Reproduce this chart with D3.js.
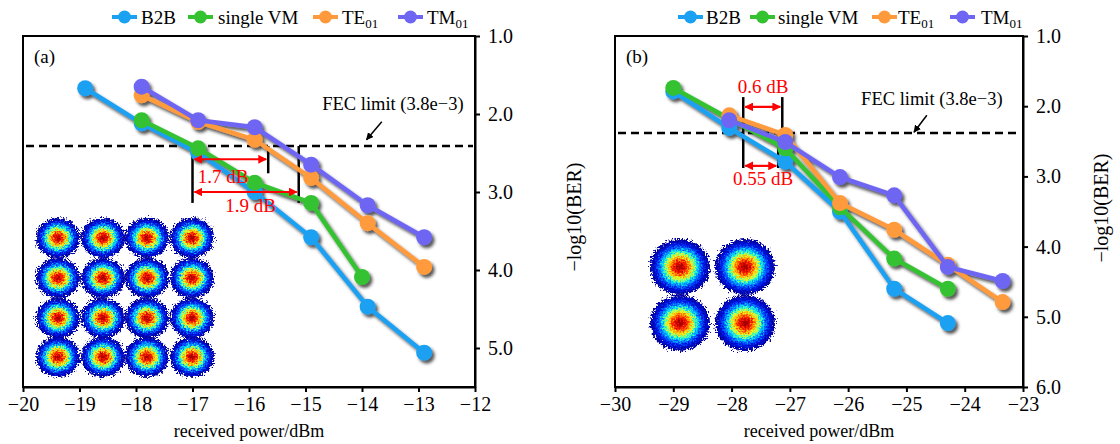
<!DOCTYPE html>
<html lang="en">
<head>
<meta charset="UTF-8">
<title>BER vs received power</title>
<script src="https://cdn.jsdelivr.net/npm/d3@7"></script>
<style>
  body { margin: 0; background: #fff; }
  .axis path, .axis line { stroke: #000; stroke-width: 2; }
  .box { fill: none; stroke: #000; stroke-width: 2; }
</style>
</head>
<body>
<svg width="1120" height="444"></svg>
<script>
// ---- data ----
const seriesNames = ["B2B", "single VM", "TE", "TM"];
const seriesSubs = ["", "", "01", "01"];
const seriesColors = ["#1ba1f2", "#35c231", "#ff9a3c", "#6e66f2"];

// panel (a)
const powerA_B2B = [-18.9, -17.9, -16.9, -15.9, -14.9, -13.9, -12.9];
const berA_B2B   = [1.67, 2.12, 2.50, 3.00, 3.58, 4.47, 5.06];
const powerA_VM  = [-17.9, -16.9, -15.9, -14.9, -14.0];
const berA_VM    = [2.08, 2.44, 2.88, 3.14, 4.09];
const powerA_TE  = [-17.9, -16.9, -15.9, -14.9, -13.9, -12.9];
const berA_TE    = [1.76, 2.10, 2.33, 2.82, 3.40, 3.96];
const powerA_TM  = [-17.9, -16.9, -15.9, -14.9, -13.9, -12.9];
const berA_TM    = [1.65, 2.08, 2.17, 2.65, 3.17, 3.58];

// panel (b)
const powerB_B2B = [-29.0, -28.04, -27.08, -26.14, -25.21, -24.29];
const berB_B2B   = [1.79, 2.31, 2.79, 3.50, 4.60, 5.09];
const powerB_VM  = [-29.0, -28.04, -27.08, -26.14, -25.21, -24.29];
const berB_VM    = [1.74, 2.18, 2.60, 3.44, 4.17, 4.60];
const powerB_TE  = [-28.04, -27.08, -26.14, -25.21, -24.29, -23.35];
const berB_TE    = [2.13, 2.41, 3.38, 3.76, 4.26, 4.79];
const powerB_TM  = [-28.04, -27.08, -26.14, -25.21, -24.29, -23.35];
const berB_TM    = [2.20, 2.51, 3.01, 3.27, 4.29, 4.49];

const xTicksA = [-20, -19, -18, -17, -16, -15, -14, -13, -12];
const yTicksA = [1, 2, 3, 4, 5];
const xTicksB = [-30, -29, -28, -27, -26, -25, -24, -23];
const yTicksB = [1, 2, 3, 4, 5, 6];

const fecA = 2.41, fecB = 2.38;

const FONT = "'Liberation Serif', 'Times New Roman', Times, serif";

const svg = d3.select("svg").attr("font-family", FONT);
const defs = svg.append("defs");

// shadow under the curves
defs.append("filter").attr("id", "shadow")
  .attr("x", "-20%").attr("y", "-20%").attr("width", "140%").attr("height", "140%")
  .append("feDropShadow")
  .attr("dx", 2.5).attr("dy", 3).attr("stdDeviation", 1.6)
  .attr("flood-color", "#222").attr("flood-opacity", 0.75);

// ragged edge for the constellation clouds
const rough = defs.append("filter").attr("id", "rough")
  .attr("x", "-30%").attr("y", "-30%").attr("width", "160%").attr("height", "160%");
rough.append("feTurbulence").attr("type", "fractalNoise")
  .attr("baseFrequency", 0.6).attr("numOctaves", 2).attr("seed", 3).attr("result", "noise");
rough.append("feDisplacementMap").attr("in", "SourceGraphic").attr("in2", "noise")
  .attr("scale", 10).attr("xChannelSelector", "R").attr("yChannelSelector", "G");

// jet colormap gradient
const jet = defs.append("radialGradient").attr("id", "jet");
[[0, "#8a0000"], [0.1, "#c00000"], [0.22, "#ff2000"], [0.34, "#ffb000"],
 [0.44, "#e0ff30"], [0.52, "#40ffb0"], [0.6, "#00c8ff"], [0.7, "#0060ff"],
 [0.82, "#0010e0"], [1, "#000090"]]
  .forEach(s => jet.append("stop").attr("offset", s[0]).attr("stop-color", s[1]));

// arrow heads
defs.append("marker").attr("id", "redArrow")
  .attr("viewBox", "0 0 10 10").attr("refX", 9).attr("refY", 5)
  .attr("markerWidth", 4).attr("markerHeight", 4)
  .attr("orient", "auto-start-reverse").attr("markerUnits", "strokeWidth")
  .append("path").attr("d", "M0,0L10,5L0,10z").attr("fill", "#ff0000");
defs.append("marker").attr("id", "blackArrow")
  .attr("viewBox", "0 0 10 10").attr("refX", 9).attr("refY", 5)
  .attr("markerWidth", 5).attr("markerHeight", 5)
  .attr("orient", "auto").attr("markerUnits", "strokeWidth")
  .append("path").attr("d", "M0,0L10,5L0,10z").attr("fill", "#000");

function label(sel, size) {
  return sel.append("text").attr("font-family", FONT).attr("font-size", size);
}

function drawPanel(p) {
  const x = d3.scaleLinear().domain(p.xDomain).range([p.left, p.right]);
  const y = d3.scaleLinear().domain(p.yDomain).range([p.top, p.bottom]);
  const g = svg.append("g");

  // constellation insets
  p.clouds.forEach(c => {
    g.append("ellipse")
      .attr("cx", p.left + c[0]).attr("cy", c[1])
      .attr("rx", p.cloudR[0]).attr("ry", p.cloudR[1])
      .attr("fill", "url(#jet)").attr("filter", "url(#rough)");
  });

  // box
  g.append("rect").attr("class", "box")
    .attr("x", p.left).attr("y", p.top)
    .attr("width", p.right - p.left).attr("height", p.bottom - p.top);

  // axes
  const gx = g.append("g").attr("class", "axis")
    .attr("transform", `translate(0,${p.bottom})`)
    .call(d3.axisBottom(x).tickValues(p.xTicks).tickFormat(d3.format("d"))
      .tickSize(5).tickPadding(5).tickSizeOuter(0));
  const gy = g.append("g").attr("class", "axis")
    .attr("transform", `translate(${p.right},0)`)
    .call(d3.axisRight(y).tickValues(p.yTicks).tickFormat(d3.format(".1f"))
      .tickSize(5).tickPadding(8).tickSizeOuter(0));
  [gx, gy].forEach(a => a.attr("font-family", FONT).attr("font-size", 20)
    .selectAll("text").attr("fill", "#000"));

  // FEC line
  g.append("line")
    .attr("x1", p.left + 3).attr("x2", p.right - 2)
    .attr("y1", y(p.fec)).attr("y2", y(p.fec))
    .attr("stroke", "#000").attr("stroke-width", 2.5).attr("stroke-dasharray", "8,5");
  label(g, 18.5).attr("x", x(p.fecText[0])).attr("y", y(p.fecText[1]))
    .attr("text-anchor", "end").text("FEC limit (3.8e\u22123)");
  g.append("line")
    .attr("x1", x(p.fecArrow[0])).attr("y1", y(p.fecArrow[1]))
    .attr("x2", x(p.fecArrow[2])).attr("y2", y(p.fecArrow[3]))
    .attr("stroke", "#000").attr("stroke-width", 1.5).attr("marker-end", "url(#blackArrow)");

  // black guide lines
  p.guides.forEach(v => {
    g.append("line").attr("x1", x(v[0])).attr("x2", x(v[0]))
      .attr("y1", y(v[1])).attr("y2", y(v[2]))
      .attr("stroke", "#000").attr("stroke-width", 2.5);
  });

  // curves
  const line = d3.line().x(d => x(d[0])).y(d => y(d[1]));
  const curves = g.append("g").attr("filter", "url(#shadow)");
  p.series.forEach((s, i) => {
    const pts = d3.zip(s[0], s[1]);
    const sg = curves.append("g");
    sg.append("path").attr("d", line(pts))
      .attr("fill", "none").attr("stroke", seriesColors[i]).attr("stroke-width", 4.5);
    sg.selectAll("circle").data(pts).join("circle")
      .attr("cx", d => x(d[0])).attr("cy", d => y(d[1])).attr("r", 8)
      .attr("fill", seriesColors[i]);
  });

  // red dB arrows
  p.arrows.forEach(a => {
    g.append("line").attr("x1", x(a[0]) + 2).attr("x2", x(a[1]) - 2)
      .attr("y1", y(a[2])).attr("y2", y(a[2]))
      .attr("stroke", "#ff0000").attr("stroke-width", 2.2)
      .attr("marker-start", "url(#redArrow)").attr("marker-end", "url(#redArrow)");
    label(g, 19).attr("x", x(a[3])).attr("y", y(a[4]))
      .attr("text-anchor", "middle").attr("fill", "#ff0000").text(a[5]);
  });

  // panel label
  label(g, 19).attr("x", p.left + 11).attr("y", 63).text(p.label);

  // axis titles
  label(g, 18).attr("x", (p.left + p.right) / 2).attr("y", 437)
    .attr("text-anchor", "middle").text("received power/dBm");
  label(g, 20)
    .attr("transform", `translate(${p.yTitle[0]},${p.yTitle[1]}) rotate(-90)`)
    .attr("text-anchor", "middle").text("\u2212log10(BER)");

  // legend
  p.legend.forEach((lx, i) => {
    const lg = g.append("g").attr("transform", `translate(${lx},17)`);
    lg.append("line").attr("x1", 0).attr("x2", 25)
      .attr("stroke", seriesColors[i]).attr("stroke-width", 4);
    lg.append("circle").attr("cx", 12.5).attr("r", 6.5).attr("fill", seriesColors[i]);
    const t = label(lg, 19).attr("x", p.legendGap[i]).attr("y", 7);
    t.append("tspan").text(seriesNames[i]);
    if (seriesSubs[i]) t.append("tspan").attr("font-size", 13).attr("dy", 4).text(seriesSubs[i]);
  });
}

drawPanel({
  label: "(a)",
  left: 23, right: 475, top: 36, bottom: 387,
  xDomain: [-20, -12], yDomain: [1, 5.5],
  xTicks: xTicksA, yTicks: yTicksA,
  fec: fecA,
  fecText: [-12.2, 1.95],
  fecArrow: [-13.65, 2.10, -13.92, 2.33],
  guides: [[-17.0, fecA, 3.14], [-15.66, fecA, 2.76], [-15.12, fecA, 3.14]],
  arrows: [[-17.0, -15.66, 2.58, -16.46, 2.88, "1.7 dB"],
           [-17.0, -15.12, 3.0, -15.97, 3.26, "1.9 dB"]],
  series: [[powerA_B2B, berA_B2B], [powerA_VM, berA_VM], [powerA_TE, berA_TE], [powerA_TM, berA_TM]],
  clouds: [35, 80, 124, 169].flatMap(cx => [238, 278, 318, 357].map(cy => [cx, cy])),
  cloudR: [22, 20],
  yTitle: [581, 217],
  legend: [112, 188, 313, 398],
  legendGap: [29, 30, 29, 29]
});

drawPanel({
  label: "(b)",
  left: 615, right: 1023, top: 36, bottom: 387,
  xDomain: [-30, -23], yDomain: [1, 6],
  xTicks: xTicksB, yTicks: yTicksB,
  fec: fecB,
  fecText: [-23.35, 1.98],
  fecArrow: [-24.65, 2.13, -24.87, 2.37],
  guides: [[-27.8, 1.87, 2.88], [-27.13, 1.87, fecB], [-27.2, fecB, 2.88]],
  arrows: [[-27.8, -27.13, 2.01, -27.46, 1.81, "0.6 dB"],
           [-27.8, -27.2, 2.85, -27.46, 3.12, "0.55 dB"]],
  series: [[powerB_B2B, berB_B2B], [powerB_VM, berB_VM], [powerB_TE, berB_TE], [powerB_TM, berB_TM]],
  clouds: [[65, 267], [130, 267], [65, 323], [130, 323]],
  cloudR: [30, 28],
  yTitle: [1108, 208],
  legend: [678, 750, 872, 950],
  legendGap: [28, 28, 26, 31]
});
</script>
</body>
</html>
